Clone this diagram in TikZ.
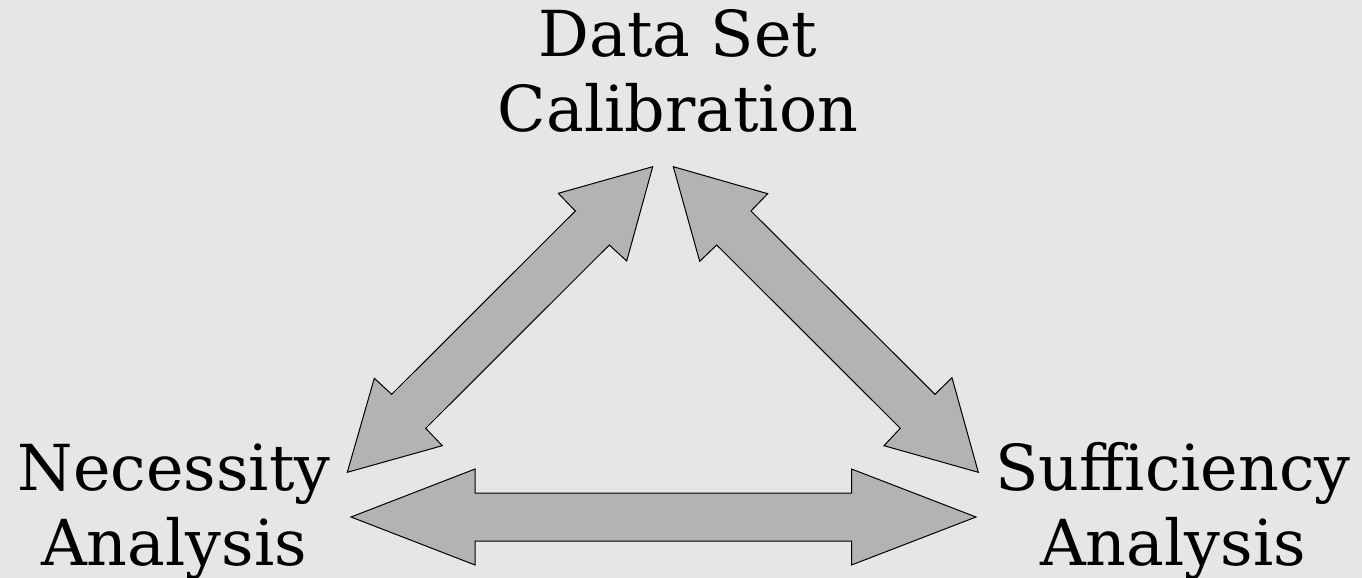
\documentclass[tikz,border=0pt]{standalone}
\usepackage{fontspec}
\setmainfont{DejaVu Serif}
\definecolor{bgcol}{HTML}{E6E6E6}
\definecolor{arrcol}{HTML}{B3B3B3}
\tikzset{
  blockarrow/.style={fill=arrcol, draw=black, line width=0.5pt, line join=miter},
  label/.style={inner sep=0pt, align=center, font=\fontsize{31.7}{37.3}\selectfont, text=black}
}
\begin{document}
\begin{tikzpicture}[x=0.5pt, y=-0.5pt]
\fill[bgcol] (0,0) rectangle (1362,578);
\useasboundingbox (0,0) rectangle (1362,578);
% labels (base anchor = baseline of last line)
\node[label, anchor=base] (dsc) at (678,131) {Data Set\\Calibration};
\node[label, anchor=base] (nec) at (174,565) {Necessity\\Analysis};
\node[label, anchor=base] (suf) at (1173,565) {Sufficiency\\Analysis};
% arrow: Necessity <-> Data Set Calibration
\filldraw[blockarrow] (652.7,166.7) -- (626.7,261) -- (609.3,245) -- (425.7,428.3)
  -- (442.3,445.7) -- (347.3,472.3) -- (374.3,378.3) -- (391.7,394.3)
  -- (575.3,211) -- (558.3,193.3) -- cycle;
% arrow: Data Set Calibration <-> Sufficiency
\filldraw[blockarrow] (673.3,166.7) -- (767.7,193.7) -- (751,211) -- (935,394.3)
  -- (952,377.7) -- (978.3,472.3) -- (884,445.7) -- (900.3,428.3)
  -- (716.7,245) -- (699.7,261.3) -- cycle;
% arrow: Necessity <-> Sufficiency
\filldraw[blockarrow] (351,517) -- (475,469) -- (475,493) -- (851.5,493)
  -- (851.5,469) -- (976,517) -- (851.5,565) -- (851.5,541)
  -- (475,541) -- (475,565) -- cycle;
\end{tikzpicture}
\end{document}
